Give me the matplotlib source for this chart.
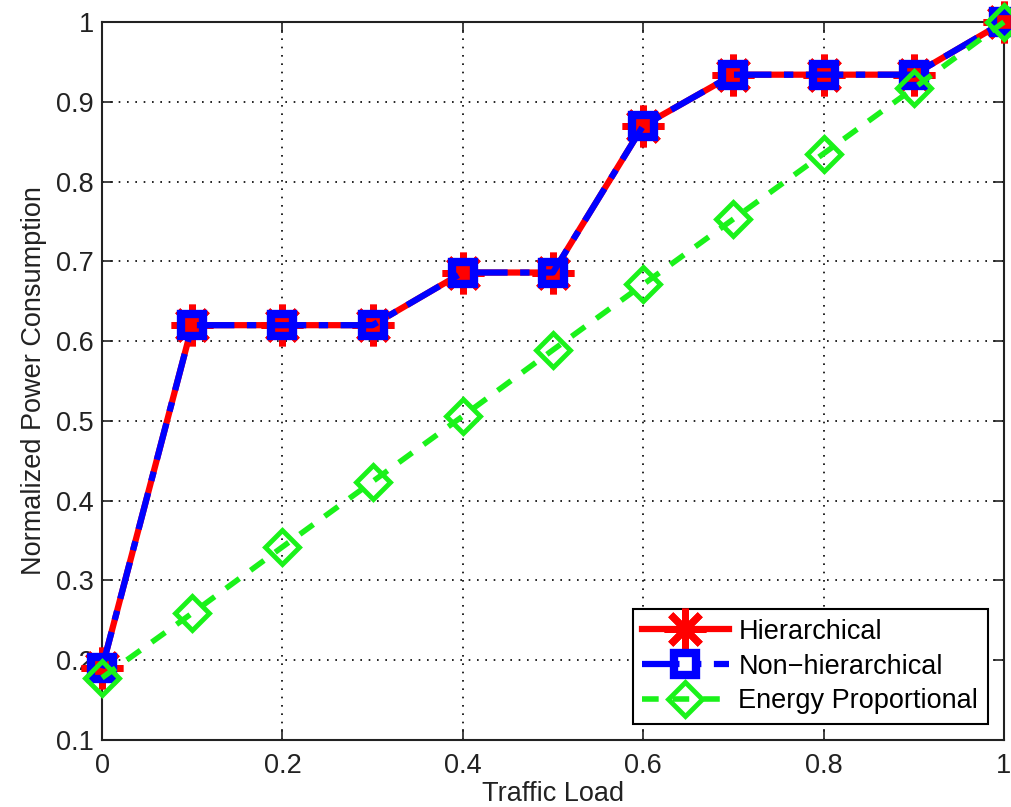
import matplotlib.pyplot as plt

plt.rcParams['font.family'] = ['Liberation Sans', 'DejaVu Sans']

traffic_load = [0.0, 0.1, 0.2, 0.3, 0.4, 0.5, 0.6, 0.7, 0.8, 0.9, 1.0]
hierarchical = [0.19, 0.62, 0.62, 0.62, 0.686, 0.686, 0.87, 0.934, 0.934, 0.934, 1.0]
non_hierarchical = [0.19, 0.62, 0.62, 0.62, 0.686, 0.686, 0.87, 0.934, 0.934, 0.934, 1.0]
energy_proportional = [0.178, 0.259, 0.342, 0.424, 0.506, 0.589, 0.671, 0.753, 0.835, 0.917, 1.0]

fig = plt.figure(figsize=(10.12, 8.07), dpi=100)
ax = fig.add_axes([0.1008, 0.083, 0.8912, 0.8897])

ax.plot(traffic_load, hierarchical, color="red", linestyle="-", linewidth=4.5,
        marker=(8, 2, 0), markersize=30, markeredgewidth=5,
        label="Hierarchical", clip_on=False, zorder=3)
ax.plot(traffic_load, non_hierarchical, color="blue", linestyle="-.", linewidth=4.5,
        dashes=(6, 2, 1.5, 2), marker="s", markersize=16, markeredgewidth=6,
        markerfacecolor="none", label="Non\u2212hierarchical", clip_on=False, zorder=4)
ax.plot(traffic_load, energy_proportional, color=(0.1, 0.95, 0.1), linestyle="--",
        linewidth=4, dashes=(3, 2.5), marker="D", markersize=17, markeredgewidth=3.5,
        markerfacecolor="none", label="Energy Proportional", clip_on=False, zorder=5)

ax.set_xlim(0, 1)
ax.set_ylim(0.1, 1)
ax.set_xticks([0, 0.2, 0.4, 0.6, 0.8, 1])
ax.set_xticklabels(["0", "0.2", "0.4", "0.6", "0.8", "1"])
ax.set_yticks([0.1, 0.2, 0.3, 0.4, 0.5, 0.6, 0.7, 0.8, 0.9, 1.0])
ax.set_yticklabels(["0.1", "0.2", "0.3", "0.4", "0.5", "0.6", "0.7", "0.8", "0.9", "1"])
ax.tick_params(axis="x", pad=9)
ax.tick_params(direction="in", length=8, width=1.2, top=True, right=True,
               labelsize=19.5, colors="#222222")
ax.tick_params(axis="y", pad=6)
ax.grid(True, color="black", linestyle=(0, (1, 4)), linewidth=1.2)
for spine in ax.spines.values():
    spine.set_linewidth(1.5)
    spine.set_color("#222222")

ax.set_xlabel("Traffic Load", fontsize=19.5, labelpad=2, color="#222222")
ax.set_ylabel("Normalized Power Consumption", fontsize=19.5, labelpad=6, color="#222222")

leg = ax.legend(loc="lower right", fontsize=19.5, handlelength=3.2, handletextpad=0.35,
                borderpad=0.35, labelspacing=0.32, fancybox=False, framealpha=1,
                edgecolor="black", borderaxespad=0.6)
leg.get_frame().set_linewidth(1.5)

fig.savefig("out.png", dpi=100)
